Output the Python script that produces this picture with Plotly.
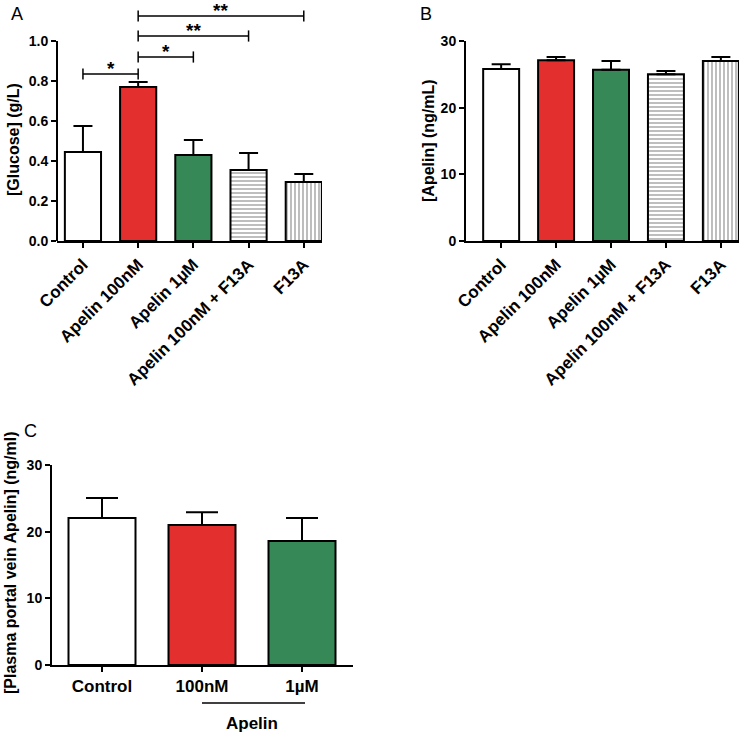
import plotly.graph_objects as go

W, H = 750, 733

# panel A - glucose
groups_ab = ["Control", "Apelin 100nM", "Apelin 1µM", "Apelin 100nM + F13A", "F13A"]
glucose_mean = [0.445, 0.77, 0.43, 0.355, 0.295]
glucose_sem = [0.13, 0.025, 0.075, 0.085, 0.04]
# (group a, group b, bracket height, label)
glucose_stats = [(0, 1, 0.835, "*"), (1, 2, 0.92, "*"), (1, 3, 1.025, "**"), (1, 4, 1.125, "**")]

# panel B - apelin in medium
apelin_mean = [25.8, 27.1, 25.7, 25.0, 27.0]
apelin_sem = [0.7, 0.5, 1.3, 0.5, 0.6]

# panel C - plasma portal vein apelin
groups_c = ["Control", "100nM", "1µM"]
plasma_mean = [22.05, 21.0, 18.6]
plasma_sem = [3.0, 1.9, 3.45]

RED = "#e3302e"
GREEN = "#368957"
fills = ["white", RED, GREEN, "white", "white"]
patterns = ["", "", "", "-", "|"]
FONT = "Liberation Sans, Arial, sans-serif"


def px_x(p):
    return p / W


def px_y(p):
    return 1 - p / H


def bar_trace(means, sems, xaxis, yaxis, width, cap):
    n = len(means)
    return go.Bar(
        x=list(range(n)),
        y=means,
        width=width,
        marker=dict(
            color=fills[:n],
            line=dict(color="black", width=2),
            pattern=dict(shape=patterns[:n], fgcolor="black", bgcolor="white",
                         size=4, solidity=0.35, fillmode="overlay"),
        ),
        error_y=dict(type="data", array=sems, arrayminus=[0] * n, symmetric=False,
                     color="black", thickness=2, width=cap),
        xaxis=xaxis, yaxis=yaxis,
        showlegend=False, hoverinfo="skip",
    )


fig = go.Figure()
fig.add_trace(bar_trace(glucose_mean, glucose_sem, "x", "y", 0.655, 9.5))
fig.add_trace(bar_trace(apelin_mean, apelin_sem, "x2", "y2", 0.655, 9.5))
fig.add_trace(bar_trace(plasma_mean, plasma_sem, "x3", "y3", 0.67, 16))

# significance brackets
tick_h = 0.028
for a, b, h, lab in glucose_stats:
    fig.add_trace(go.Scatter(
        x=[a, a, None, a, b, None, b, b],
        y=[h - tick_h, h + tick_h, None, h, h, None, h - tick_h, h + tick_h],
        mode="lines", line=dict(color="black", width=1.5),
        xaxis="x", yaxis="y", showlegend=False, hoverinfo="skip",
    ))
    fig.add_annotation(x=(a + b) / 2, y=h, xref="x", yref="y", text=lab,
                       showarrow=False, yanchor="middle", yshift=6,
                       font=dict(size=19, family=FONT, color="black", weight="bold"))

tickfont = dict(size=14, family=FONT, color="black", weight="bold")
catfont = dict(size=17, family=FONT, color="black", weight="bold")
titlefont = dict(size=16, family=FONT, color="black", weight="bold")

common_x = dict(showline=True, linecolor="black", linewidth=2, ticks="outside",
                ticklen=5, tickwidth=2, tickcolor="black", showgrid=False,
                zeroline=False, tickmode="array", automargin=False)
common_y = dict(linecolor="black", linewidth=2, ticks="outside", ticklen=5,
                tickwidth=2, tickcolor="black", showgrid=False, zeroline=False,
                tickfont=tickfont, automargin=False)

fig.update_layout(
    template="none",
    width=W, height=H,
    margin=dict(l=0, r=0, t=0, b=0, autoexpand=False),
    plot_bgcolor="white", paper_bgcolor="white",
    xaxis=dict(common_x, domain=[px_x(57), px_x(322)], range=[-0.47, 4.33], anchor="y",
               tickvals=list(range(5)), ticktext=groups_ab, tickangle=-45, tickfont=catfont),
    yaxis=dict(common_y, domain=[px_y(241), px_y(7)], range=[0, 1.17], anchor="x",
               showline=False, tickvals=[0, 0.2, 0.4, 0.6, 0.8, 1.0],
               ticktext=["0.0", "0.2", "0.4", "0.6", "0.8", "1.0"]),
    xaxis2=dict(common_x, domain=[px_x(466), px_x(739)], range=[-0.64, 4.33], anchor="y2",
                tickvals=list(range(5)), ticktext=groups_ab, tickangle=-45, tickfont=catfont),
    yaxis2=dict(common_y, domain=[px_y(241), px_y(41)], range=[0, 30], anchor="x2",
                showline=True, tickvals=[0, 10, 20, 30]),
    xaxis3=dict(common_x, domain=[px_x(52), px_x(353)], range=[-0.5, 2.51], anchor="y3",
                tickvals=list(range(3)), ticktext=groups_c, tickangle=0, tickfont=catfont),
    yaxis3=dict(common_y, domain=[px_y(665), px_y(465)], range=[0, 30], anchor="x3",
                showline=True, tickvals=[0, 10, 20, 30]),
)

# y spine of panel A stops at 1.0 while brackets sit above it
fig.add_shape(type="line", xref="x domain", yref="y", x0=0, x1=0, y0=0, y1=1.0,
              line=dict(color="black", width=2))

# y axis titles
for txt, x, y in [("[Glucose] (g/L)", 13, 140), ("[Apelin] (ng/mL)", 428, 141),
                  ("[Plasma portal vein Apelin] (ng/ml)", 10, 563)]:
    fig.add_annotation(x=px_x(x), y=px_y(y), xref="paper", yref="paper", text=txt,
                       textangle=-90, showarrow=False, xanchor="center", yanchor="middle",
                       font=titlefont)

# "Apelin" group line under panel C
fig.add_shape(type="line", xref="x3", yref="paper", x0=1, x1=2.03,
              y0=px_y(703), y1=px_y(703), line=dict(color="black", width=1.5))
fig.add_annotation(x=1.5, xref="x3", y=px_y(723), yref="paper", text="Apelin",
                   showarrow=False, xanchor="center", yanchor="middle", font=catfont)

for lab, x, y in [("A", 17, 14), ("B", 426, 14), ("C", 30, 431)]:
    fig.add_annotation(x=px_x(x), y=px_y(y), xref="paper", yref="paper", text=lab,
                       showarrow=False, xanchor="center", yanchor="middle",
                       font=dict(size=18, family=FONT, color="black"))

fig.write_html("out.html", config={"displayModeBar": False},
               post_script="document.body.style.margin='0';")
